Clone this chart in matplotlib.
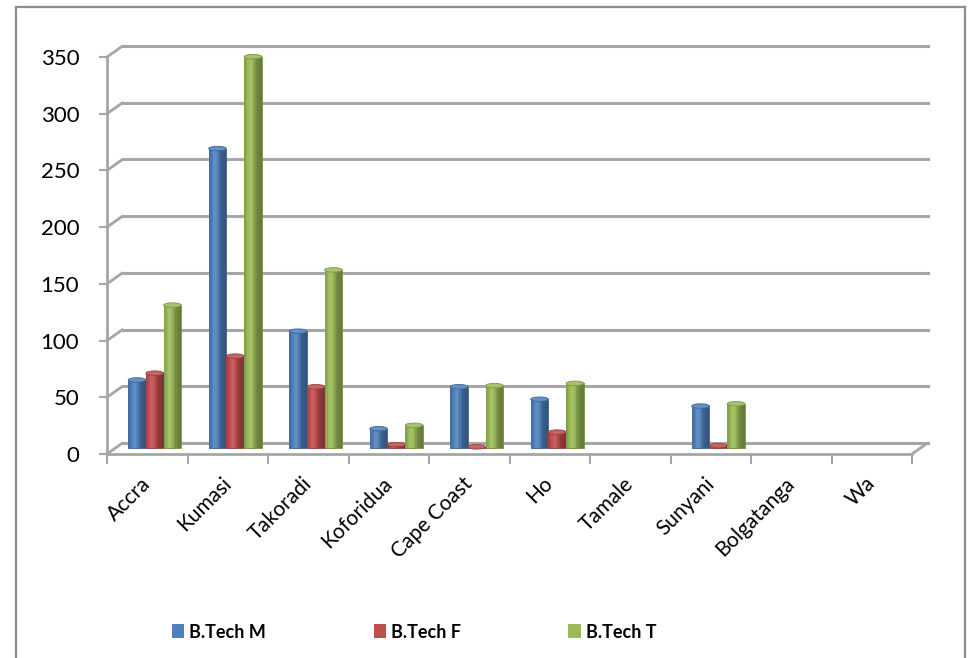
import matplotlib
matplotlib.use("Agg")
import matplotlib.pyplot as plt
import matplotlib.transforms as mtransforms
from matplotlib.patches import Ellipse, Patch, ConnectionPatch
from matplotlib.lines import Line2D
import numpy as np

plt.rcParams['font.family'] = ['Lato', 'DejaVu Sans']

categories = ["Accra", "Kumasi", "Takoradi", "Koforidua", "Cape Coast", "Ho",
              "Tamale", "Sunyani", "Bolgatanga", "Wa"]
series_names = ["B.Tech M", "B.Tech F", "B.Tech T"]
btech_m = [60, 264, 103, 17, 54, 43, 0, 37, 0, 0]
btech_f = [66, 81, 54, 3, 1, 14, 0, 2, 0, 0]
btech_t = [126, 345, 157, 20, 55, 57, 0, 39, 0, 0]
yticks = [0, 50, 100, 150, 200, 250, 300, 350]
colors = ["#4F81BD", "#C0504D", "#9BBB59"]

W, H = 972, 658
fig = plt.figure(figsize=(W / 100, H / 100), dpi=100)
fig.patch.set_facecolor("white")

# figure border (chart area)
bc = "#8C8C8C"
fig.add_artist(Line2D([16 / W, 16 / W], [0, 1 - 7 / H], color=bc, lw=1.6, transform=fig.transFigure))
fig.add_artist(Line2D([16 / W, 965 / W], [1 - 7 / H, 1 - 7 / H], color=bc, lw=1.6, transform=fig.transFigure))
fig.add_artist(Line2D([965 / W, 965 / W], [0, 1 - 7 / H], color=bc, lw=1.6, transform=fig.transFigure))

x0, x1 = 107, 912
y0, y1 = 454, 57
ax = fig.add_axes([x0 / W, (H - y0) / H, (x1 - x0) / W, (y0 - y1) / H])
ax.set_xlim(-0.5, len(categories) - 0.5)
ax.set_ylim(0, 350)
ax.set_facecolor("none")

gc = "#A6A6A6"
back = ax.transData + mtransforms.ScaledTranslation(0.155, 0.11, fig.dpi_scale_trans)
mid = ax.transData + mtransforms.ScaledTranslation(0.075, 0.06, fig.dpi_scale_trans)

xl = ax.get_xlim()
for v in yticks:
    ax.plot(xl, [v, v], color=gc, lw=2.2, transform=back, clip_on=False, zorder=1)
    cp = ConnectionPatch(xyA=(xl[0], v), coordsA=ax.transData,
                         xyB=(xl[0], v), coordsB=back, color=gc, lw=2.0, zorder=1)
    ax.add_artist(cp)
cp = ConnectionPatch(xyA=(xl[1], 0), coordsA=ax.transData,
                     xyB=(xl[1], 0), coordsB=back, color=gc, lw=2.0, zorder=1)
ax.add_artist(cp)

# bars (cylinder look)
bw = 0.22
offsets = [-bw, 0, bw]
series = [btech_m, btech_f, btech_t]
xs = np.arange(len(categories))
nstrip = 12
prof = np.linspace(0, 1, nstrip)
shade = 0.78 + 0.35 * np.exp(-((prof - 0.35) / 0.28) ** 2) - 0.12 * prof
px_per_unit = (y0 - y1) / 350.0
cap_h = 4.5 / px_per_unit

def adj(c, f):
    rgb = np.array(matplotlib.colors.to_rgb(c))
    if f >= 1:
        return tuple(rgb + (1 - rgb) * (f - 1) * 1.2)
    return tuple(rgb * f)

for si, (vals, col) in enumerate(zip(series, colors)):
    pos = xs + offsets[si]
    vals = np.array(vals, dtype=float)
    lws = [0.6 if v > 0 else 0 for v in vals]
    ax.bar(pos, vals, width=bw, color=col, transform=mid, zorder=3,
           edgecolor=adj(col, 0.75), linewidth=lws, clip_on=False)
    sw = bw / nstrip
    for k in range(nstrip):
        ax.bar(pos - bw / 2 + sw * (k + 0.5), vals, width=sw * 1.02,
               color=adj(col, shade[k]), transform=mid, zorder=3.1,
               linewidth=0, clip_on=False)
    for p, v in zip(pos, vals):
        if v > 0:
            e = Ellipse((p, v), bw, cap_h, facecolor=adj(col, 1.1),
                        edgecolor=adj(col, 0.8), lw=0.6, transform=mid,
                        zorder=3.3, clip_on=False)
            ax.add_patch(e)

# axes styling
for s in ["top", "right"]:
    ax.spines[s].set_visible(False)
ax.spines["left"].set_color(gc)
ax.spines["bottom"].set_color(gc)
ax.spines["left"].set_linewidth(2.0)
ax.spines["bottom"].set_linewidth(2.0)
ax.set_yticks(yticks)
ax.set_yticklabels([str(v) for v in yticks], fontsize=16)
ax.tick_params(axis="y", length=6, width=1.5, color=gc, pad=14)
ax.set_xticks(xs)
ax.set_xticklabels(categories, rotation=45, ha="right", rotation_mode="anchor", fontsize=15)
ax.tick_params(axis="x", which="major", length=0, pad=14)
shift = mtransforms.ScaledTranslation(-0.07, 0, fig.dpi_scale_trans)
for lab in ax.get_xticklabels():
    lab.set_transform(lab.get_transform() + shift)
ax.set_xticks(np.arange(-0.5, len(categories), 1.0), minor=True)
ax.tick_params(axis="x", which="minor", length=7, width=1.5, color=gc)

handles = [Patch(facecolor=c, edgecolor="none") for c in colors]
leg = fig.legend(handles, series_names, loc="center left",
                 bbox_to_anchor=(172 / W, 1 - 632 / H), ncol=3, frameon=False,
                 borderpad=0, borderaxespad=0, handlelength=0.68, handleheight=0.78,
                 handletextpad=0.28, columnspacing=5.95,
                 prop={"weight": "bold", "size": 13})

fig.savefig("out.png", dpi=100)
